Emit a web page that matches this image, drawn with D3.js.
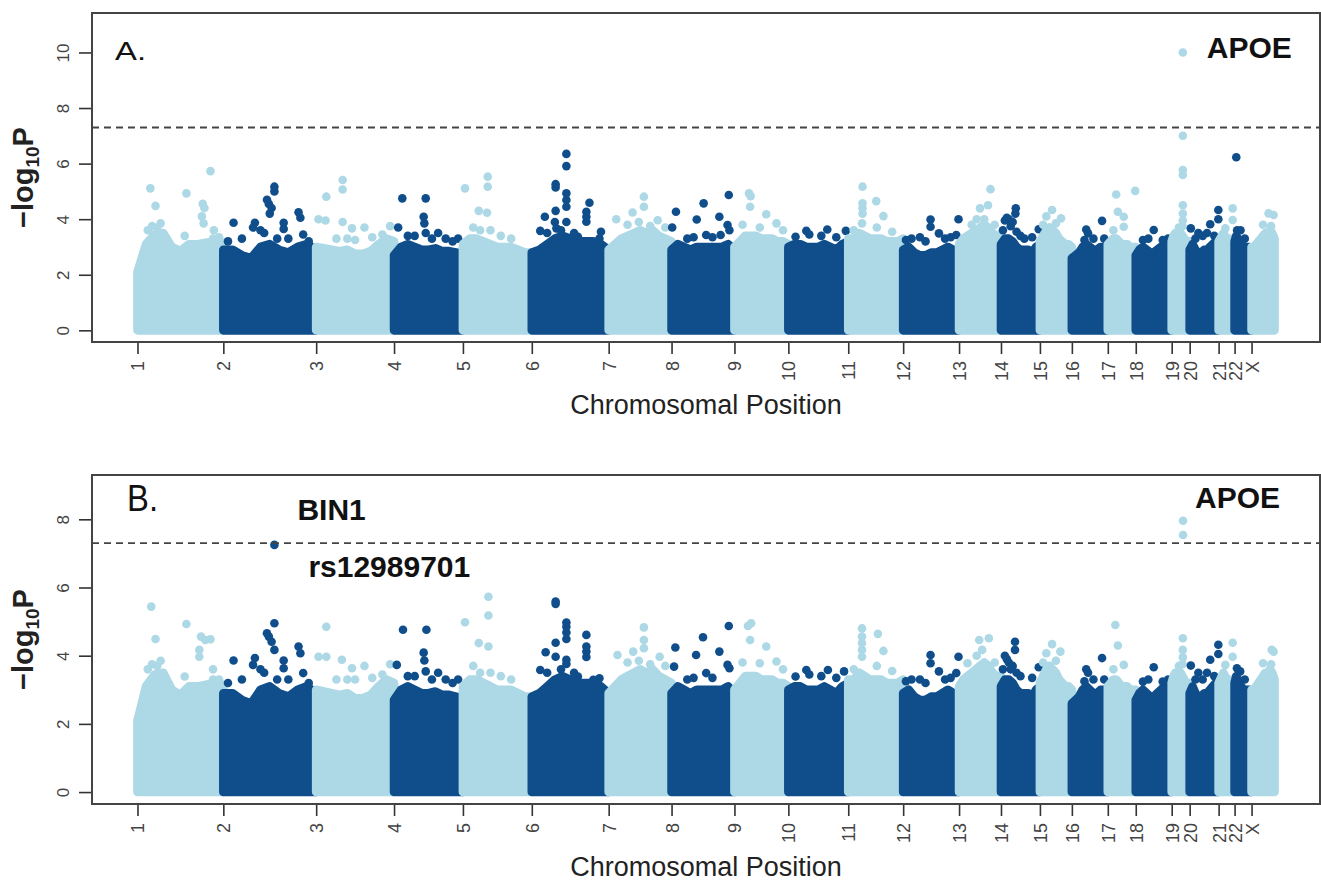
<!DOCTYPE html>
<html>
<head>
<meta charset="utf-8">
<script src="https://cdn.jsdelivr.net/npm/d3@7"></script>
<style>
  body { margin: 0; background: #fff; }
  text { font-family: "Liberation Sans", Arial, sans-serif; }
</style>
</head>
<body>
<script>
const chromNames = ["1","2","3","4","5","6","7","8","9","10","11","12","13","14","15","16","17","18","19","20","21","22","X"];
const snpCounts = [172,186,156,138,138,154,126,126,108,120,110,112,84,78,64,72,56,72,36,58,32,34,46];

// top of the dense bulk of points (-log10P) at 11 evenly spaced spots per chromosome
const bandTops = [
    [2.1, 3.1, 3.45, 3.5, 3.0, 2.85, 3.1, 3.1, 3.15, 3.2, 3.15],
    [2.9, 2.9, 2.7, 2.6, 3.0, 3.1, 2.9, 2.8, 3.0, 3.1, 2.9],
    [3.0, 2.95, 2.9, 2.85, 2.9, 2.75, 2.75, 2.85, 3.1, 3.3, 3.2],
    [2.7, 3.0, 3.1, 3.0, 2.9, 2.9, 2.95, 2.85, 2.85, 2.8, 2.75],
    [3.1, 3.3, 3.3, 3.2, 3.1, 3.0, 3.0, 3.0, 2.9, 2.8, 2.8],
    [2.8, 2.9, 3.1, 3.3, 3.4, 3.3, 3.2, 3.2, 3.2, 3.1, 2.9],
    [2.9, 3.1, 3.3, 3.4, 3.5, 3.6, 3.5, 3.6, 3.4, 3.3, 3.2],
    [2.9, 3.1, 3.0, 2.9, 3.0, 3.0, 3.0, 3.0, 3.0, 3.1, 2.9],
    [3.0, 3.2, 3.4, 3.4, 3.4, 3.3, 3.3, 3.3, 3.2, 3.2, 3.1],
    [3.0, 3.1, 3.1, 3.0, 3.0, 3.0, 3.1, 3.0, 2.9, 3.1, 3.2],
    [3.3, 3.3, 3.5, 3.4, 3.3, 3.3, 3.3, 3.2, 3.2, 3.2, 3.3],
    [2.9, 3.0, 2.8, 2.7, 2.7, 2.8, 2.8, 2.9, 3.0, 2.9, 2.8],
    [3.1, 3.3, 3.4, 3.5, 3.6, 3.7, 3.8, 3.7, 3.5, 3.4, 3.4],
    [3.1, 3.3, 3.3, 3.2, 3.0, 2.9, 2.9, 2.9, 2.8, 3.0, 3.1],
    [3.2, 3.4, 3.6, 3.7, 3.6, 3.5, 3.3, 3.2, 3.1, 3.1, 3.0],
    [2.6, 2.7, 2.8, 3.0, 3.1, 3.0, 2.9, 2.9, 3.0, 3.0, 2.9],
    [3.1, 3.2, 3.3, 3.3, 3.2, 3.1, 3.1, 3.1, 3.0, 3.0, 3.0],
    [2.7, 2.9, 3.0, 2.9, 2.8, 2.8, 2.9, 3.0, 3.1, 3.0, 2.9],
    [3.2, 3.4, 3.5, 3.5, 3.4, 3.5, 3.4, 3.3, 3.2, 3.2, 3.2],
    [2.9, 3.1, 2.9, 2.8, 2.8, 2.9, 2.9, 3.0, 3.1, 3.2, 3.0],
    [3.2, 3.3, 3.4, 3.5, 3.4, 3.3, 3.3, 3.3, 3.2, 3.2, 3.1],
    [3.2, 3.4, 3.3, 3.1, 3.1, 3.0, 3.0, 3.0, 3.0, 3.0, 2.9],
    [3.0, 3.0, 3.1, 3.2, 3.3, 3.4, 3.5, 3.5, 3.6, 3.5, 3.3]
];

// SNPs standing out above the bulk: [chromosome, position within chromosome (0-1), -log10P]
const peaksA = [
    ["1",.15,5.11],["1",.21,4.48],["1",.57,4.93],["1",.85,5.73],["1",.76,4.55],["1",.78,4.4],["1",.75,4.1],["1",.77,3.85],
    ["1",.17,3.75],["1",.27,3.85],["1",.23,3.7],["1",.55,3.4],["1",.89,3.6],["1",.88,3.3],["1",.95,3.35],["1",.12,3.6],
    ["2",.11,3.87],["2",.34,3.87],["2",.32,3.7],["2",.47,4.7],["2",.49,4.55],["2",.52,4.4],["2",.55,5.17],["2",.55,5.0],
    ["2",.50,4.2],["2",.65,3.87],["2",.65,3.65],["2",.81,4.25],["2",.83,4.05],["2",.86,3.45],["2",.40,3.6],["2",.44,3.5],
    ["2",.58,3.3],["2",.70,3.3],["2",.92,3.2],["2",.20,3.3],["2",.05,3.2],
    ["3",.03,4.0],["3",.12,3.95],["3",.13,4.81],["3",.34,5.41],["3",.34,5.07],["3",.34,3.9],["3",.46,3.67],["3",.62,3.7],
    ["3",.26,3.3],["3",.40,3.3],["3",.50,3.25],["3",.72,3.35],["3",.85,3.45],["3",.95,3.75],
    ["4",.12,4.75],["4",.46,4.75],["4",.43,4.09],["4",.44,3.85],["4",.06,3.7],["4",.46,3.5],["4",.64,3.5],["4",.93,3.3],
    ["4",.20,3.4],["4",.30,3.4],["4",.55,3.3],["4",.75,3.3],["4",.85,3.2],
    ["5",.03,5.11],["5",.36,5.53],["5",.36,5.17],["5",.23,4.3],["5",.35,4.23],["5",.15,3.7],["5",.25,3.6],["5",.40,3.6],
    ["5",.55,3.4],["5",.70,3.3],
    ["6",.45,6.35],["6",.45,5.91],["6",.31,5.26],["6",.31,5.14],["6",.45,4.93],["6",.45,4.69],["6",.45,4.45],["6",.75,4.59],
    ["6",.71,4.27],["6",.71,4.09],["6",.71,3.91],["6",.17,4.09],["6",.31,4.3],["6",.45,3.9],["6",.11,3.58],["6",.30,3.9],
    ["6",.32,3.67],["6",.60,3.37],["6",.88,3.3],["6",.90,3.55],["6",.20,3.5],["6",.38,3.6],["6",.55,3.5],
    ["7",.56,4.81],["7",.56,4.45],["7",.12,4.0],["7",.38,4.24],["7",.78,3.96],["7",.30,3.8],["7",.48,3.9],["7",.66,3.75],["7",.90,3.7],
    ["8",.07,4.27],["8",.51,4.57],["8",.91,4.87],["8",.40,3.99],["8",.76,4.09],["8",.01,3.7],["8",.89,3.79],["8",.92,3.6],
    ["8",.55,3.43],["8",.78,3.43],["8",.25,3.3],["8",.35,3.35],["8",.65,3.35],
    ["9",.27,4.93],["9",.30,4.83],["9",.29,4.45],["9",.59,4.18],["9",.47,3.7],["9",.78,3.85],["9",.15,3.8],["9",.90,3.6],
    ["10",.30,3.58],["10",.65,3.63],["10",.96,3.58],["10",.12,3.37],["10",.35,3.45],["10",.55,3.4],["10",.80,3.35],
    ["11",.26,5.17],["11",.26,4.57],["11",.26,4.39],["11",.26,4.2],["11",.51,4.65],["11",.64,4.11],["11",.52,3.7],["11",.25,3.85],
    ["11",.10,3.6],["11",.80,3.55],
    ["12",.49,3.99],["12",.49,3.73],["12",.99,4.0],["12",.95,3.43],["12",.64,3.49],["12",.05,3.25],["12",.15,3.3],["12",.30,3.35],
    ["12",.40,3.2],["12",.75,3.3],["12",.85,3.35],
    ["13",.75,5.08],["13",.69,4.5],["13",.50,4.39],["13",.60,4.0],["13",.42,4.0],["13",.30,3.8],["13",.85,3.8],
    ["14",.38,4.39],["14",.37,4.2],["14",.10,3.95],["14",.15,4.05],["14",.20,4.0],["14",.30,3.9],["14",.25,3.75],["14",.40,3.55],
    ["14",.50,3.4],["14",.60,3.3],["14",.97,3.64],["14",.05,3.6],["14",.80,3.35],
    ["15",.38,4.33],["15",.66,4.03],["15",.20,4.1],["15",.50,3.85],["15",.10,3.8],
    ["16",.84,3.94],["16",.40,3.63],["16",.45,3.49],["16",.35,3.25],["16",.90,3.3],["16",.60,3.3],
    ["17",.30,4.89],["17",.36,4.27],["17",.57,4.09],["17",.57,3.73],["17",.98,5.02],["17",.20,3.6],
    ["18",.50,3.61],["18",.20,3.25],["18",.35,3.3],["18",.75,3.25],["18",.90,3.3],
    ["19",.62,10.0],["19",.62,7.0],["19",.62,5.77],["19",.62,5.59],["19",.62,4.5],["19",.62,4.2],["19",.62,3.95],["19",.60,3.75],["19",.40,3.7],
    ["20",.04,3.67],["20",.71,3.82],["20",.99,4.33],["20",.99,4.0],["20",.30,3.5],["20",.45,3.4],["20",.60,3.5],["20",.85,3.4],["20",.20,3.3],
    ["21",.88,4.39],["21",.88,3.97],["21",.42,3.67],
    ["22",.10,6.23],["22",.15,3.6],["22",.35,3.6],["22",.60,3.3],
    ["X",.74,4.21],["X",.96,4.15],["X",.50,3.8],["X",.85,3.75]
];

const peaksB = [
    ["1",.16,5.44],["1",.21,4.49],["1",.57,4.93],["1",.74,4.56],["1",.79,4.46],["1",.85,4.48],["1",.72,4.17],["1",.72,3.97],
    ["1",.17,3.75],["1",.27,3.85],["1",.23,3.7],["1",.55,3.39],["1",.88,3.6],["1",.88,3.3],["1",.95,3.3],["1",.12,3.6],
    ["2",.11,3.86],["2",.34,3.93],["2",.32,3.73],["2",.47,4.66],["2",.49,4.56],["2",.52,4.41],["2",.55,4.95],["2",.55,4.17],
    ["2",.65,3.86],["2",.65,3.63],["2",.81,4.27],["2",.83,4.07],["2",.86,3.49],["2",.40,3.6],["2",.44,3.5],["2",.58,3.3],
    ["2",.70,3.3],["2",.92,3.2],["2",.20,3.3],["2",.05,3.2],["2",.55,7.25],
    ["3",.13,4.85],["3",.03,3.97],["3",.13,3.97],["3",.33,3.88],["3",.46,3.63],["3",.62,3.7],["3",.26,3.3],["3",.40,3.3],
    ["3",.50,3.3],["3",.72,3.35],["3",.85,3.45],["3",.95,3.75],
    ["4",.13,4.76],["4",.47,4.76],["4",.43,4.09],["4",.44,3.86],["4",.04,3.73],["4",.46,3.54],["4",.64,3.5],["4",.93,3.3],
    ["4",.20,3.4],["4",.30,3.4],["4",.55,3.3],["4",.75,3.3],["4",.85,3.2],
    ["5",.03,4.98],["5",.37,5.73],["5",.37,5.18],["5",.23,4.37],["5",.37,4.27],["5",.15,3.7],["5",.25,3.5],["5",.40,3.5],
    ["5",.55,3.4],["5",.70,3.3],
    ["6",.31,5.59],["6",.31,5.52],["6",.45,4.97],["6",.45,4.85],["6",.45,4.68],["6",.45,4.49],["6",.31,4.38],["6",.18,4.1],
    ["6",.31,3.97],["6",.45,3.88],["6",.45,3.76],["6",.71,4.61],["6",.71,4.27],["6",.71,4.12],["6",.71,3.96],["6",.11,3.58],
    ["6",.60,3.39],["6",.80,3.29],["6",.88,3.34],["6",.20,3.5],["6",.38,3.6],["6",.55,3.5],
    ["7",.56,4.83],["7",.56,4.46],["7",.56,4.22],["7",.14,4.02],["7",.39,4.12],["7",.81,3.97],["7",.30,3.8],["7",.48,3.85],
    ["7",.66,3.75],["7",.90,3.7],
    ["8",.06,4.24],["8",.50,4.54],["8",.91,4.87],["8",.39,4.02],["8",.76,4.12],["8",.89,3.73],["8",.92,3.63],["8",.04,3.68],
    ["8",.55,3.49],["8",.25,3.3],["8",.35,3.35],["8",.65,3.35],
    ["9",.31,4.95],["9",.25,4.87],["9",.29,4.46],["9",.59,4.27],["9",.78,3.83],["9",.47,3.78],["9",.15,3.8],["9",.90,3.6],
    ["10",.30,3.58],["10",.66,3.58],["10",.93,3.54],["10",.12,3.39],["10",.35,3.45],["10",.55,3.4],["10",.80,3.35],
    ["11",.25,4.8],["11",.25,4.56],["11",.25,4.37],["11",.25,4.17],["11",.25,3.97],["11",.54,4.64],["11",.64,4.14],["11",.52,3.7],
    ["11",.10,3.6],["11",.80,3.55],
    ["12",.49,4.02],["12",.49,3.78],["12",.99,3.97],["12",.95,3.49],["12",.64,3.54],["12",.05,3.25],["12",.15,3.3],["12",.30,3.3],
    ["12",.40,3.2],["12",.75,3.3],["12",.85,3.35],
    ["13",.48,4.46],["13",.71,4.51],["13",.55,4.17],["13",.20,3.78],["13",.42,4.0],["13",.85,3.8],
    ["14",.36,4.41],["14",.36,4.17],["14",.10,4.0],["14",.15,3.9],["14",.20,3.8],["14",.30,3.7],["14",.25,3.6],["14",.40,3.5],
    ["14",.50,3.4],["14",.97,3.66],["14",.05,3.6],["14",.80,3.35],
    ["15",.38,4.34],["15",.64,4.12],["15",.20,4.07],["15",.50,3.85],["15",.10,3.8],
    ["16",.84,3.93],["16",.40,3.6],["16",.45,3.5],["16",.35,3.25],["16",.90,3.3],["16",.60,3.3],
    ["17",.27,4.9],["17",.36,4.3],["17",.57,3.73],["17",.20,3.6],
    ["18",.50,3.66],["18",.20,3.24],["18",.35,3.3],["18",.75,3.24],["18",.90,3.3],
    ["19",.63,7.96],["19",.63,7.54],["19",.62,4.51],["19",.62,4.17],["19",.62,3.95],["19",.60,3.75],["19",.40,3.7],
    ["20",.04,3.71],["20",.71,3.88],["20",.99,4.32],["20",.99,4.05],["20",.30,3.5],["20",.45,3.3],["20",.60,3.5],["20",.85,3.4],["20",.20,3.3],
    ["21",.88,4.38],["21",.88,3.97],["21",.42,3.73],
    ["22",.14,3.63],["22",.33,3.54],["22",.60,3.3],
    ["X",.88,4.17],["X",.96,4.12],["X",.50,3.78],["X",.85,3.75]
];

const yTicksA = [0, 2, 4, 6, 8, 10];
const yTicksB = [0, 2, 4, 6, 8];
const genomeWide = 7.3; // -log10(5e-8)

const lightBlue = "#add8e6";
const darkBlue = "#104e8b";

const width = 1321, height = 882;
const boxLeft = 92, boxRight = 1320;
const dotR = 4.3;

const svg = d3.select("body").append("svg")
    .attr("width", width)
    .attr("height", height);

svg.append("rect").attr("width", width).attr("height", height).attr("fill", "#fff");

const starts = Array.from(d3.cumsum([0, ...snpCounts])).slice(0, snpCounts.length);
const total = d3.sum(snpCounts);
const pad = total * 0.04;

const x = d3.scaleLinear()
    .domain([-pad, total + pad])
    .range([boxLeft, boxRight]);

function genomePos(chr, f) {
    const i = chromNames.indexOf(chr);
    return starts[i] + f * snpCounts[i];
}

function chromColor(i) {
    return i % 2 === 0 ? lightBlue : darkBlue;
}

function drawPanel(cfg) {
    const y = d3.scaleLinear()
        .domain([cfg.yMin, cfg.yMax])
        .range([cfg.bottom, cfg.top]);

    const g = svg.append("g");
    const clipId = "clip" + cfg.letter[0];
    svg.append("clipPath").attr("id", clipId)
        .append("rect")
        .attr("x", boxLeft).attr("y", cfg.top)
        .attr("width", boxRight - boxLeft).attr("height", cfg.bottom - cfg.top);

    const plot = g.append("g").attr("clip-path", `url(#${clipId})`);

    const area = d3.area()
        .x(d => x(d.p))
        .y0(y(0))
        .y1(d => y(d.v));

    chromNames.forEach((c, i) => {
        const col = chromColor(i);
        const tops = bandTops[i];
        const pts = tops.map((v, j) => ({ p: starts[i] + j / (tops.length - 1) * snpCounts[i], v: v }));

        plot.append("path")
            .attr("d", area(pts))
            .attr("fill", col)
            .attr("stroke", col)
            .attr("stroke-width", dotR * 2)
            .attr("stroke-linejoin", "round");

        plot.selectAll(null)
            .data(cfg.peaks.filter(p => p[0] === c))
            .enter()
            .append("circle")
            .attr("cx", d => x(genomePos(d[0], d[1])))
            .attr("cy", d => y(d[2]))
            .attr("r", dotR)
            .attr("fill", col);
    });

    plot.append("line")
        .attr("x1", boxLeft).attr("x2", boxRight)
        .attr("y1", y(genomeWide)).attr("y2", y(genomeWide))
        .attr("stroke", "#444")
        .attr("stroke-width", 1.8)
        .attr("stroke-dasharray", "7,5");

    // y axis
    g.append("g")
        .attr("transform", `translate(${boxLeft},0)`)
        .call(d3.axisLeft(y).tickValues(cfg.yTicks).tickSize(13).tickSizeOuter(0))
        .call(a => a.select(".domain").remove())
        .call(a => a.selectAll("line").attr("stroke", "#333").attr("stroke-width", 1.6))
        .call(a => a.selectAll("text")
            .attr("x", null).attr("dy", null)
            .attr("text-anchor", "middle")
            .attr("transform", "translate(-23,0) rotate(-90)")
            .attr("fill", "#444")
            .style("font-size", "17px"));

    // x axis with chromosome labels at chromosome starts
    g.append("g")
        .attr("transform", `translate(0,${cfg.bottom})`)
        .call(d3.axisBottom(x).tickValues(starts).tickFormat((d, i) => chromNames[i]).tickSize(12).tickSizeOuter(0))
        .call(a => a.select(".domain").remove())
        .call(a => a.selectAll("line").attr("stroke", "#333").attr("stroke-width", 1.6))
        .call(a => a.selectAll("text")
            .attr("x", null).attr("y", null)
            .attr("dy", "0.36em")
            .attr("text-anchor", "end")
            .attr("transform", "translate(0,19) rotate(-90)")
            .attr("fill", "#444")
            .style("font-size", "18px"));

    g.append("rect")
        .attr("x", boxLeft).attr("y", cfg.top)
        .attr("width", boxRight - boxLeft).attr("height", cfg.bottom - cfg.top)
        .attr("fill", "none")
        .attr("stroke", "#444")
        .attr("stroke-width", 2);

    // gene labels
    cfg.labels.forEach(l => {
        g.append("text")
            .attr("x", x(genomePos(l.chr, l.f)) + l.dx)
            .attr("y", y(l.v) + l.dy)
            .attr("fill", "#111")
            .style("font-size", "30px")
            .style("font-weight", "bold")
            .text(l.text);
    });

    // panel letter
    g.append("text")
        .attr("x", cfg.letterX).attr("y", cfg.letterY)
        .attr("fill", "#111")
        .style("font-size", cfg.letterSize + "px")
        .attr("textLength", cfg.letterLen)
        .attr("lengthAdjust", "spacingAndGlyphs")
        .text(cfg.letter);

    // axis titles
    g.append("text")
        .attr("x", (boxLeft + boxRight) / 2)
        .attr("y", cfg.bottom + 72)
        .attr("text-anchor", "middle")
        .attr("fill", "#222")
        .style("font-size", "27px")
        .text("Chromosomal Position");

    const yt = g.append("text")
        .attr("transform", `translate(33,${(cfg.top + cfg.bottom) / 2}) rotate(-90)`)
        .attr("text-anchor", "middle")
        .attr("fill", "#222")
        .style("font-size", "29px")
        .style("font-weight", "bold");
    yt.append("tspan").text("\u2212log");
    yt.append("tspan").attr("dy", "0.3em").style("font-size", "19px").text("10");
    yt.append("tspan").attr("dy", "-0.2em").text("P");
}

drawPanel({
    letter: "A.", letterX: 115, letterY: 60, letterSize: 25, letterLen: 31,
    top: 13, bottom: 342, yMin: -0.42, yMax: 11.42, yTicks: yTicksA,
    peaks: peaksA,
    labels: [{ text: "APOE", chr: "19", f: 0.62, v: 10.0, dx: 24, dy: 6 }]
});

drawPanel({
    letter: "B.", letterX: 127, letterY: 511, letterSize: 37, letterLen: 31,
    top: 475, bottom: 804, yMin: -0.35, yMax: 9.3, yTicks: yTicksB,
    peaks: peaksB,
    labels: [
        { text: "APOE", chr: "19", f: 0.63, v: 7.96, dx: 12, dy: -13 },
        { text: "BIN1", chr: "2", f: 0.55, v: 7.25, dx: 23, dy: -25 },
        { text: "rs12989701", chr: "2", f: 0.55, v: 7.25, dx: 34, dy: 32 }
    ]
});
</script>
</body>
</html>
